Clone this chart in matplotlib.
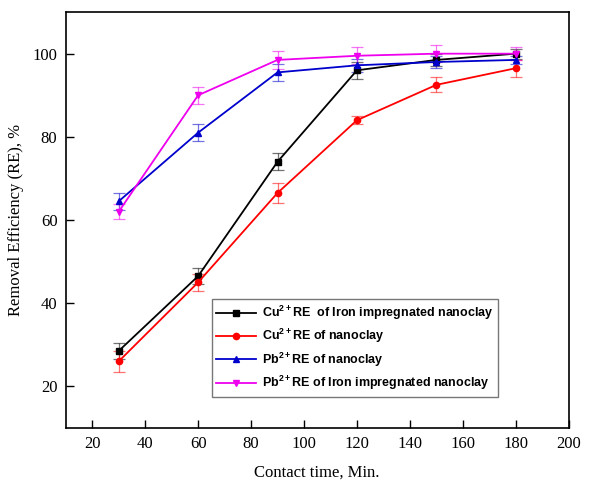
import matplotlib
matplotlib.use("Agg")
import matplotlib.pyplot as plt
from matplotlib.lines import Line2D

plt.rcParams["mathtext.fontset"] = "custom"
plt.rcParams["mathtext.rm"] = "Liberation Sans:bold"
plt.rcParams["mathtext.bf"] = "Liberation Sans:bold"
plt.rcParams["mathtext.it"] = "Liberation Sans:bold"

time = [30, 60, 90, 120, 150, 180]
cu_iron = [28.5, 46.5, 74.0, 96.0, 98.5, 100.0]
cu_iron_err = [2.0, 2.0, 2.0, 2.0, 1.5, 1.2]
cu_nano = [26.0, 45.0, 66.5, 84.0, 92.5, 96.5]
cu_nano_err = [2.5, 2.0, 2.5, 1.0, 1.8, 2.0]
pb_nano = [64.5, 81.0, 95.5, 97.2, 98.0, 98.5]
pb_nano_err = [2.0, 2.0, 2.0, 1.5, 1.5, 1.0]
pb_iron = [62.0, 90.0, 98.5, 99.5, 100.0, 100.0]
pb_iron_err = [1.8, 2.0, 2.2, 2.0, 2.0, 1.5]

labels = [r"Cu$^{\mathrm{2+}}$RE  of Iron impregnated nanoclay",
          r"Cu$^{\mathrm{2+}}$RE of nanoclay",
          r"Pb$^{\mathrm{2+}}$RE of nanoclay",
          r"Pb$^{\mathrm{2+}}$RE of Iron impregnated nanoclay"]
xticks = [20, 40, 60, 80, 100, 120, 140, 160, 180, 200]
yticks = [20, 40, 60, 80, 100]

fig = plt.figure(figsize=(5.98, 4.84), dpi=100)
ax = fig.add_axes([0.110, 0.116, 0.841, 0.859])

series = [
    (cu_iron, cu_iron_err, "black", "s"),
    (cu_nano, cu_nano_err, "red", "o"),
    (pb_nano, pb_nano_err, "#0000cc", "^"),
    (pb_iron, pb_iron_err, "#ee00ee", "v"),
]
handles = []
for (y, e, c, m), lab in zip(series, labels):
    eb = ax.errorbar(time, y, yerr=e, color=c, marker=m, markersize=4.5,
                     linewidth=1.3, ecolor=c, elinewidth=0.9, capsize=4,
                     capthick=0.9)
    for art in eb[1] + eb[2]:
        art.set_alpha(0.55)
    handles.append(Line2D([], [], color=c, marker=m, markersize=4.5,
                          linewidth=1.3, label=lab))

ax.set_xlim(10, 200)
ax.set_ylim(10, 110)
ax.set_xticks(xticks)
ax.set_yticks(yticks)
ax.tick_params(direction="in", length=6, width=1, top=False, right=False,
               labelsize=12, pad=6)
for lab in ax.get_xticklabels() + ax.get_yticklabels():
    lab.set_fontfamily("Liberation Serif")
for s in ax.spines.values():
    s.set_linewidth(1.2)

ax.set_xlabel("Contact time, Min.", fontsize=12, family="Liberation Serif", labelpad=9)
ax.set_ylabel("Removal Efficiency (RE), %", fontsize=12, family="Liberation Serif", labelpad=6)

leg = ax.legend(handles=handles, loc="lower left", bbox_to_anchor=(0.29, 0.075),
                borderaxespad=0,
                prop={"family": "Liberation Sans", "weight": "bold", "size": 9},
                frameon=True, fancybox=False, edgecolor="#555555",
                handlelength=3.2, labelspacing=0.42, borderpad=0.35, handletextpad=0.5)
leg.get_frame().set_linewidth(1.0)

fig.savefig("out.png", dpi=100)
